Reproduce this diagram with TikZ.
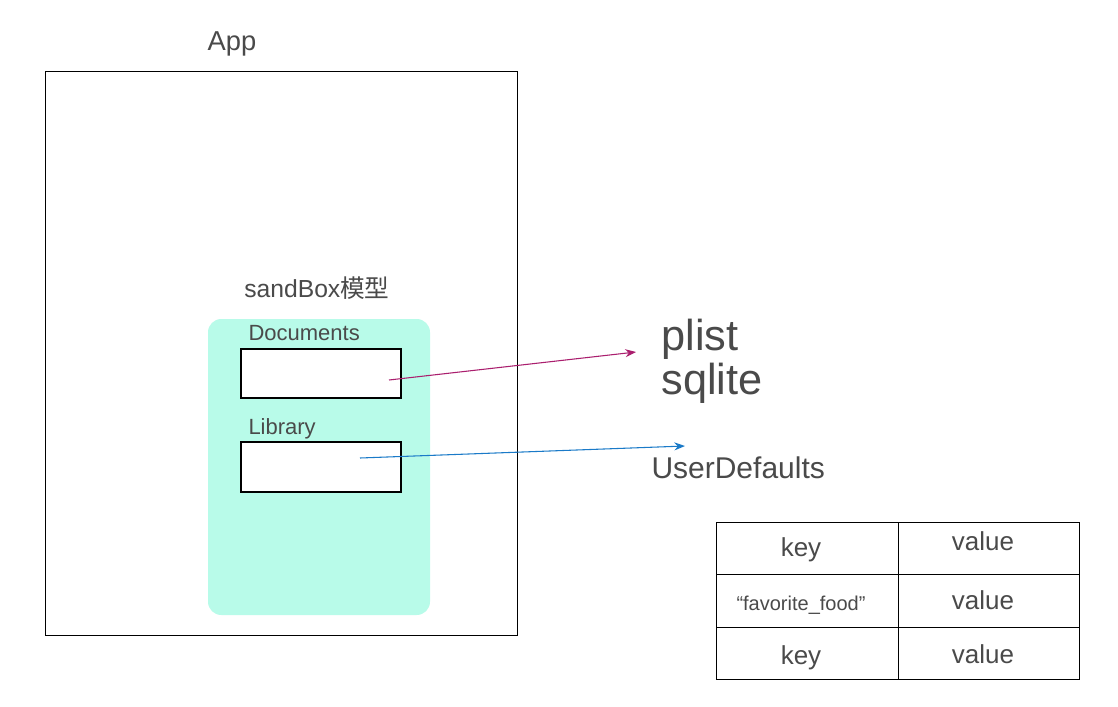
\documentclass[tikz,border=0pt]{standalone}
\usepackage{fontspec}
\setmainfont{Liberation Sans}
\newfontfamily\cjkfont{Noto Sans CJK SC}
\usetikzlibrary{arrows.meta}

\definecolor{txtgray}{RGB}{74,74,74}
\definecolor{sandfill}{RGB}{184,251,233}
\definecolor{plistarrow}{RGB}{170,30,110}
\definecolor{defaultsarrow}{RGB}{26,122,200}

\tikzset{every picture/.style={line width=0.75pt}}
\tikzset{
  lbl/.style={inner sep=0.75pt, text=txtgray},
  folder/.style={draw=black, fill=white, line width=1pt},
  linkarrow/.style={-{Stealth[length=8pt,width=6pt]}, line width=0.8pt}
}

\begin{document}
\begin{tikzpicture}[x=0.75pt,y=0.75pt,yscale=-1,xscale=1]
\useasboundingbox[fill=white] (0,0) rectangle (1118,707);

%Shape: Rectangle [app]
\draw (45,71) rectangle (517,635);
%Shape: Rounded Rect [sandbox]
\fill [sandfill, rounded corners=10pt] (208,319) rectangle (430,615);
%Shape: Rectangle [documents]
\draw [folder] (241,349) rectangle (401,398);
%Shape: Rectangle [library]
\draw [folder] (241,442) rectangle (401,492);

% Text Node
\draw (232,50) node [lbl, anchor=base] (app) {\fontsize{20.5}{24}\selectfont App};
% Text Node
\draw (317,297) node [lbl, anchor=base] (sandbox) {\fontsize{18.5}{22}\selectfont sandBox{\cjkfont 模型}};
% Text Node
\draw (247,340) node [lbl, anchor=base west] (docs) {\fontsize{16.5}{19}\selectfont Documents};
% Text Node
\draw (247,434) node [lbl, anchor=base west] (lib) {\fontsize{16.5}{19}\selectfont Library};
% Text Node
\draw (660,350) node [lbl, anchor=base west] (plist) {\fontsize{32.5}{38}\selectfont plist};
% Text Node
\draw (660,394) node [lbl, anchor=base west] (sqlite) {\fontsize{32.5}{38}\selectfont sqlite};
% Text Node
\draw (650,478) node [lbl, anchor=base west] (defaults) {\fontsize{22.5}{26}\selectfont UserDefaults};

%Straight Lines [arrows]
\coordinate (docsrc) at (389,380);
\coordinate (plisttip) at (636,352);
\coordinate (libsrc) at (360,458);
\coordinate (defaultstip) at (685,446);
\draw [linkarrow, plistarrow] (docsrc) -- (plisttip);
\draw [linkarrow, defaultsarrow] (libsrc) -- (defaultstip);

%Shape: Table [dictionary]
\draw (716,522) rectangle (1079,679);
\draw (716,574) -- (1079,574);
\draw (716,627) -- (1079,627);
\draw (898,522) -- (898,679);

% Text Node
\draw (801,556) node [lbl, anchor=base] (key1) {\fontsize{19.5}{23}\selectfont key};
% Text Node
\draw (983,550) node [lbl, anchor=base] (val1) {\fontsize{19.5}{23}\selectfont value};
% Text Node
\draw (801,610) node [lbl, anchor=base] (key2) {\fontsize{15}{18}\selectfont “favorite\_food”};
% Text Node
\draw (983,609) node [lbl, anchor=base] (val2) {\fontsize{19.5}{23}\selectfont value};
% Text Node
\draw (801,664) node [lbl, anchor=base] (key3) {\fontsize{19.5}{23}\selectfont key};
% Text Node
\draw (983,663) node [lbl, anchor=base] (val3) {\fontsize{19.5}{23}\selectfont value};

\end{tikzpicture}
\end{document}
